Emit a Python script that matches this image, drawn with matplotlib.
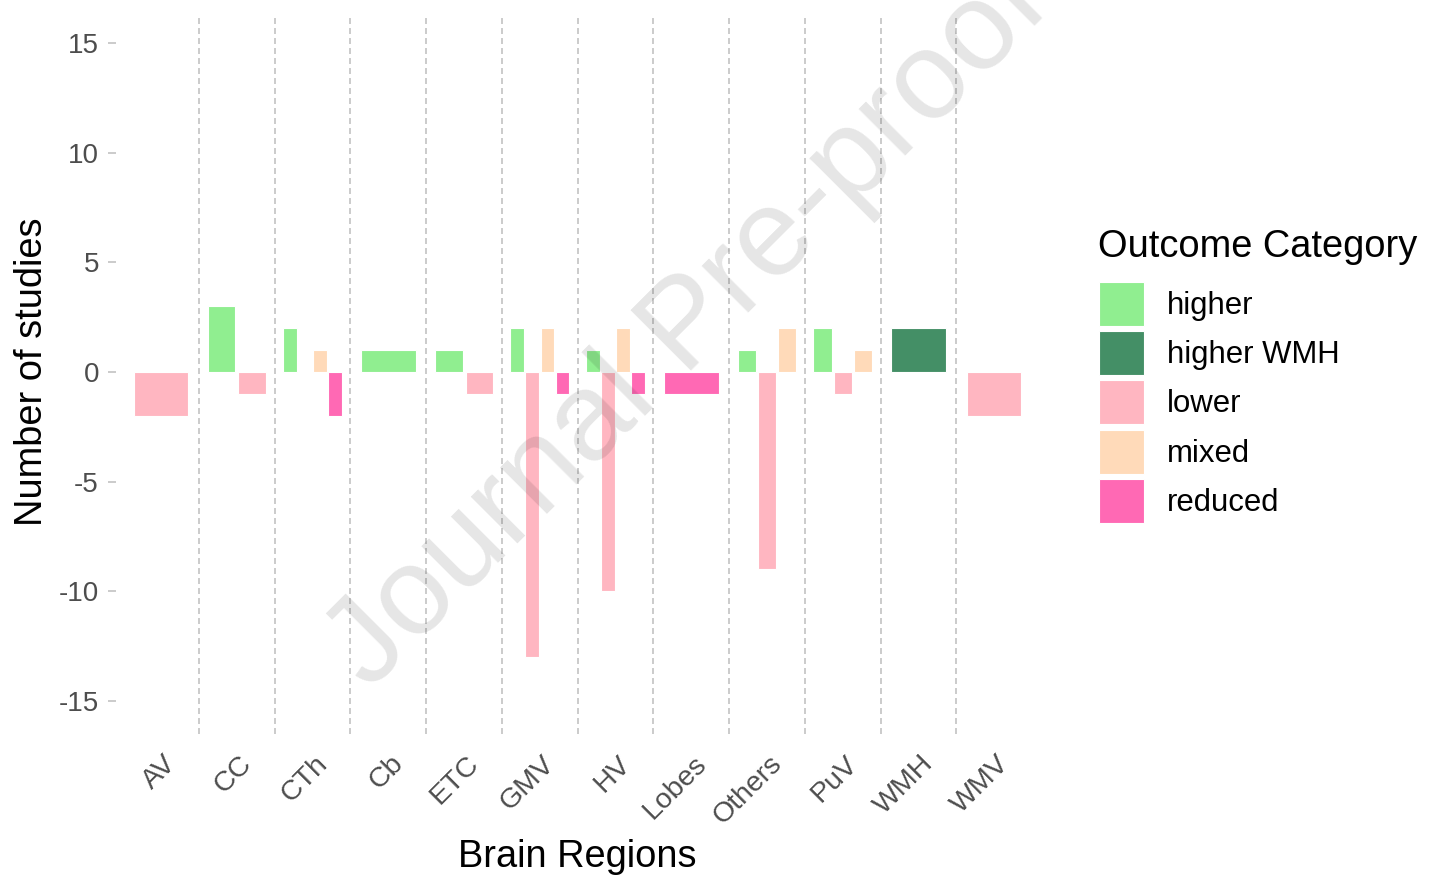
import matplotlib
matplotlib.use("Agg")
import matplotlib.pyplot as plt
import matplotlib.transforms as mtransforms
from matplotlib.patches import Patch

plt.rcParams['font.family'] = ['Liberation Sans', 'DejaVu Sans']
plt.rcParams['axes.unicode_minus'] = False
plt.rcParams['lines.scale_dashes'] = False

# data (None = no bar for that outcome)
regions = ['AV', 'CC', 'CTh', 'Cb', 'ETC', 'GMV', 'HV', 'Lobes', 'Others', 'PuV', 'WMH', 'WMV']
outcomes = ['higher', 'higher WMH', 'lower', 'mixed', 'reduced']
higher = [None, 3, 2, 1, 1, 2, 1, None, 1, 2, None, None]
higher_wmh = [None, None, None, None, None, None, None, None, None, None, 2, None]
lower = [-2, -1, 0, None, -1, -13, -10, None, -9, -1, None, -2]
mixed = [None, None, 1, None, None, 2, 2, None, 2, 1, None, None]
reduced = [None, None, -2, None, None, -1, -1, -1, None, None, None, None]
colors = ['#90EE90', '#448F66', '#FFB6C1', '#FFDAB9', '#FF69B4']

series = [higher, higher_wmh, lower, mixed, reduced]

fig = plt.figure(figsize=(14.36, 8.76), dpi=100)
ax = fig.add_axes([0.0805, 0.1623, 0.6435, 0.8263])

# dodge2-like placement: each region shares a 0.8 wide slot, 10% padding
group_w = 0.8
for i, reg in enumerate(regions):
    present = [k for k in range(len(outcomes)) if series[k][i] is not None]
    n = len(present)
    slot = group_w / n
    for j, k in enumerate(present):
        xc = i - group_w / 2 + (j + 0.5) * slot
        ax.bar(xc, series[k][i], width=slot * 0.9, color=colors[k],
               edgecolor='white', linewidth=0.8, zorder=2)

for b in range(len(regions) - 1):
    ax.axvline(b + 0.5, ymax=0.993, color='#BDBDBD', linewidth=1.1,
               linestyle=(0, (4.3, 2.9)), zorder=1)

ax.set_xlim(-0.6, len(regions) - 0.4)
ax.set_ylim(-16.5, 16.5)
ax.set_yticks([-15, -10, -5, 0, 5, 10, 15])
ax.set_xticks(range(len(regions)))
ax.set_xticklabels(regions, rotation=45, ha='right', va='top', rotation_mode='anchor')
for s in ax.spines.values():
    s.set_visible(False)

ax.tick_params(axis='y', length=6, width=1.1, color='#BDBDBD', pad=6,
               labelsize=20, labelcolor='#4D4D4D')
ax.tick_params(axis='x', length=0, pad=12, labelsize=20.5, labelcolor='#4D4D4D')
shift = mtransforms.ScaledTranslation(0.02, 0, fig.dpi_scale_trans)
for lab in ax.get_xticklabels():
    lab.set_transform(lab.get_transform() + shift)

ax.set_xlabel('Brain Regions', fontsize=27.4, color='black')
ax.xaxis.set_label_coords(0.5, -0.145)
ax.set_ylabel('Number of studies', fontsize=27.4, color='black')
ax.yaxis.set_label_coords(-0.071, 0.5)

handles = [Patch(facecolor=c, edgecolor='white', linewidth=0.8) for c in colors]
ax.legend(handles, outcomes, loc='upper left',
          bbox_to_anchor=(1099 / 1436, 1 - 281.7 / 876), bbox_transform=fig.transFigure,
          frameon=False, fontsize=22.4, handlelength=1.45, handleheight=1.8,
          labelspacing=0.17, handletextpad=0.74, borderpad=0, borderaxespad=0)
fig.text(1098 / 1436, 1 - 257 / 876, 'Outcome Category', fontsize=27.4,
         ha='left', va='baseline', color='black')

# journal watermark (cut by the top edge, as in the source)
fig.text(688 / 1436, 1 - 328 / 876, 'Journal Pre-proof', fontsize=90, rotation=45,
         ha='center', va='center', rotation_mode='anchor', color='black',
         alpha=0.1, zorder=10)

fig.savefig('out.png', dpi=100)
plt.close(fig)
